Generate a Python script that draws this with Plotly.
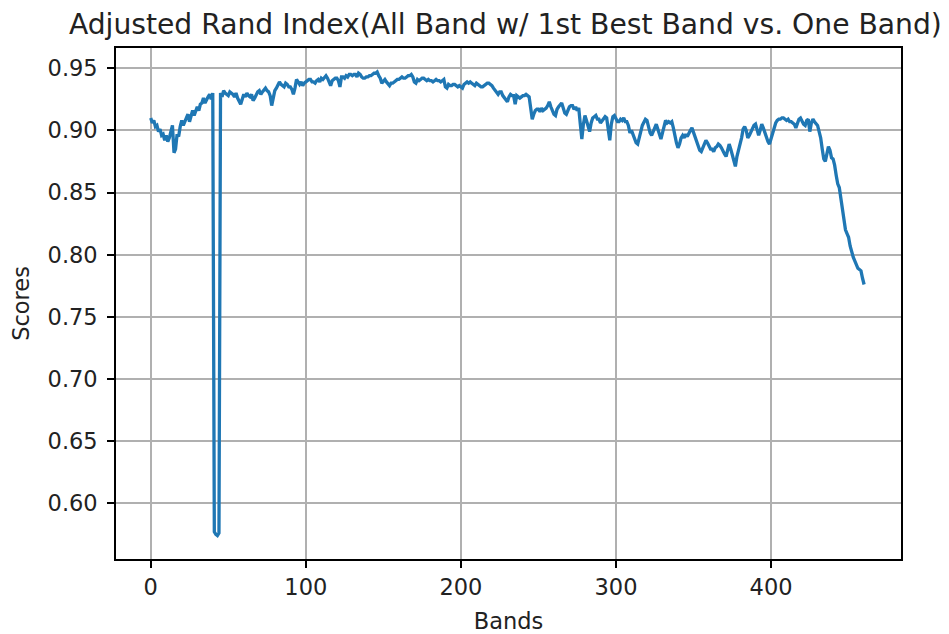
import plotly.graph_objects as go

# Adjusted Rand Index per band (all bands with the 1st best band vs. a single band)
scores = [
    0.910, 0.906, 0.908, 0.903, 0.904, 0.899, 0.901, 0.896, 0.897, 0.892,
    0.896, 0.891, 0.894, 0.898, 0.904, 0.882, 0.885, 0.897, 0.895, 0.903,
    0.908, 0.904, 0.907, 0.910, 0.913, 0.907, 0.911, 0.916, 0.912, 0.915,
    0.919, 0.916, 0.921, 0.922, 0.926, 0.922, 0.925, 0.927, 0.929, 0.925,
    0.930, 0.577, 0.575, 0.574, 0.576, 0.930, 0.927, 0.932, 0.930, 0.929,
    0.928, 0.931, 0.930, 0.929, 0.927, 0.930, 0.926, 0.923, 0.921, 0.925,
    0.929, 0.927, 0.930, 0.928, 0.927, 0.929, 0.924, 0.926, 0.929, 0.931,
    0.932, 0.929, 0.931, 0.933, 0.934, 0.932, 0.931, 0.928, 0.920, 0.926,
    0.932, 0.934, 0.936, 0.939, 0.937, 0.936, 0.935, 0.938, 0.937, 0.935,
    0.935, 0.933, 0.929, 0.934, 0.941, 0.939, 0.937, 0.939, 0.936, 0.938,
    0.939, 0.940, 0.941, 0.941, 0.939, 0.939, 0.938, 0.940, 0.941, 0.939,
    0.942, 0.941, 0.943, 0.944, 0.942, 0.939, 0.936, 0.940, 0.941, 0.942,
    0.942, 0.940, 0.935, 0.943, 0.943, 0.942, 0.944, 0.943, 0.945, 0.945,
    0.944, 0.945, 0.945, 0.943, 0.946, 0.945, 0.943, 0.942, 0.942, 0.943,
    0.943, 0.944, 0.944, 0.945, 0.946, 0.946, 0.947, 0.944, 0.942, 0.938,
    0.940, 0.941, 0.939, 0.937, 0.936, 0.938, 0.938, 0.939, 0.940, 0.941,
    0.941, 0.942, 0.943, 0.942, 0.942, 0.943, 0.944, 0.944, 0.945, 0.943,
    0.939, 0.938, 0.941, 0.940, 0.941, 0.942, 0.942, 0.941, 0.940, 0.941,
    0.940, 0.940, 0.939, 0.940, 0.941, 0.940, 0.940, 0.939, 0.940, 0.941,
    0.935, 0.934, 0.937, 0.936, 0.936, 0.937, 0.937, 0.936, 0.935, 0.936,
    0.935, 0.934, 0.937, 0.938, 0.939, 0.938, 0.939, 0.938, 0.937, 0.936,
    0.938, 0.937, 0.936, 0.935, 0.935, 0.936, 0.937, 0.938, 0.938, 0.937,
    0.936, 0.934, 0.932, 0.930, 0.929, 0.931, 0.931, 0.928, 0.926, 0.925,
    0.923, 0.927, 0.929, 0.928, 0.928, 0.921, 0.928, 0.927, 0.926, 0.927,
    0.928, 0.928, 0.929, 0.928, 0.927, 0.918, 0.909, 0.913, 0.916, 0.917,
    0.917, 0.915, 0.918, 0.916, 0.917, 0.918, 0.920, 0.923, 0.919, 0.915,
    0.913, 0.912, 0.917, 0.919, 0.921, 0.922, 0.918, 0.914, 0.913, 0.917,
    0.919, 0.920, 0.920, 0.917, 0.919, 0.916, 0.918, 0.905, 0.893, 0.905,
    0.912, 0.908, 0.904, 0.899, 0.906, 0.910, 0.911, 0.912, 0.909, 0.909,
    0.906, 0.908, 0.909, 0.911, 0.910, 0.900, 0.892, 0.905, 0.911, 0.912,
    0.909, 0.907, 0.907, 0.909, 0.908, 0.910, 0.907, 0.907, 0.904, 0.898,
    0.900, 0.897, 0.894, 0.890, 0.889, 0.893, 0.899, 0.904, 0.906, 0.909,
    0.908, 0.903, 0.898, 0.896, 0.900, 0.902, 0.905, 0.901, 0.897, 0.893,
    0.898, 0.904, 0.908, 0.906, 0.907, 0.906, 0.907, 0.902, 0.895, 0.890,
    0.886, 0.889, 0.894, 0.896, 0.894, 0.897, 0.895, 0.898, 0.900, 0.902,
    0.898, 0.895, 0.890, 0.888, 0.884, 0.883, 0.886, 0.890, 0.892, 0.890,
    0.888, 0.885, 0.885, 0.883, 0.886, 0.887, 0.889, 0.888, 0.886, 0.883,
    0.881, 0.879, 0.884, 0.889, 0.885, 0.880, 0.875, 0.871, 0.879, 0.884,
    0.887, 0.894, 0.901, 0.903, 0.900, 0.894, 0.896, 0.899, 0.902, 0.904,
    0.905, 0.900, 0.896, 0.900, 0.905, 0.902, 0.898, 0.893, 0.891, 0.889,
    0.893, 0.899, 0.903, 0.906, 0.908, 0.909, 0.909, 0.910, 0.910, 0.909,
    0.908, 0.909, 0.907, 0.907, 0.906, 0.905, 0.902, 0.906, 0.909, 0.910,
    0.907, 0.905, 0.904, 0.908, 0.909, 0.899, 0.906, 0.909, 0.907, 0.905,
    0.904, 0.899, 0.894, 0.885, 0.877, 0.875, 0.880, 0.887, 0.884, 0.878,
    0.877, 0.872, 0.864, 0.857, 0.854, 0.845, 0.836, 0.828, 0.820, 0.817,
    0.814, 0.807, 0.801, 0.798, 0.795, 0.792, 0.789, 0.788, 0.787, 0.781,
    0.776,
]
bands = list(range(len(scores)))

x_ticks = [0, 100, 200, 300, 400]
y_ticks = [0.60, 0.65, 0.70, 0.75, 0.80, 0.85, 0.90, 0.95]
y_tick_text = ["0.60", "0.65", "0.70", "0.75", "0.80", "0.85", "0.90", "0.95"]

FONT = "DejaVu Sans"
TEXT_COLOR = "#222"
LABEL_SIZE = 22.5

fig = go.Figure(
    go.Scatter(
        x=bands,
        y=scores,
        mode="lines",
        line=dict(color="#1f77b4", width=3.3),
        hoverinfo="skip",
    )
)

axis_common = dict(
    automargin=False,
    showline=True,
    mirror=True,
    linecolor="black",
    linewidth=1.6,
    showgrid=True,
    gridcolor="#b0b0b0",
    gridwidth=1.6,
    zeroline=False,
    ticks="outside",
    ticklen=7,
    tickwidth=1.6,
    tickcolor="black",
    tickfont=dict(family=FONT, size=LABEL_SIZE, color=TEXT_COLOR),
)

fig.update_xaxes(
    **axis_common,
    range=[-22.4, 483.8],
    tickvals=x_ticks,
    title=dict(text="Bands", font=dict(family=FONT, size=LABEL_SIZE, color=TEXT_COLOR), standoff=14),
)
fig.update_yaxes(
    **axis_common,
    range=[0.5551, 0.9663],
    tickvals=y_ticks,
    ticktext=y_tick_text,
    ticklabelstandoff=5,
    title=dict(text="Scores", font=dict(family=FONT, size=LABEL_SIZE, color=TEXT_COLOR), standoff=12),
)

fig.update_layout(
    width=949,
    height=634,
    margin=dict(l=116, r=48, t=47.5, b=75),
    paper_bgcolor="white",
    plot_bgcolor="white",
    showlegend=False,
    title=dict(
        text="Adjusted Rand Index(All Band w/ 1st Best Band vs. One Band)",
        font=dict(family=FONT, size=28.2, color=TEXT_COLOR),
        x=0.496,
        xref="paper",
        xanchor="center",
        y=1,
        yref="paper",
        yanchor="bottom",
        pad=dict(b=14),
    ),
)

fig.write_html("out.html")
